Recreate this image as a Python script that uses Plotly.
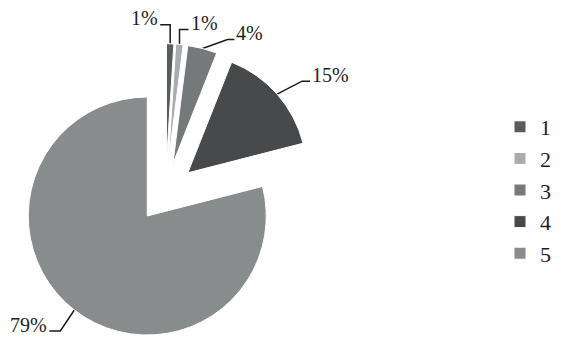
import math
import plotly.graph_objects as go

# ---- data ----
categories = ["1", "2", "3", "4", "5"]
values = [1, 1, 4, 15, 79]          # percent
colors = ["#585c5d", "#a9acac", "#76797a", "#47494a", "#898c8c"]

# ---- layout constants (figure pixels; the page body adds an 8px offset) ----
W, H = 561, 337
PULL = 0.25
DOM_X = [0.0, 0.5615]
DOM_Y = [0.0111, 0.8939]
FONT = "Liberation Serif, Times New Roman, serif"
TEXT_COLOR = "#1e1e1e"
# leader style per slice: elbow offset (dx, dy) from the slice's outer mid point, then stub length
LEADERS = [(0, -19, -10), (0, -15, 9), (25, -9, 7), (25, -13, 8), (-14, 21, -11)]

# pie geometry as plotly computes it (margins are zero)
dom_w = W * (DOM_X[1] - DOM_X[0])
dom_h = H * (DOM_Y[1] - DOM_Y[0])
r = min(dom_w, dom_h) / 2 / (1 + PULL)
cx = W * (DOM_X[0] + DOM_X[1]) / 2
cy = H * (1 - (DOM_Y[0] + DOM_Y[1]) / 2)

fig = go.Figure()

fig.add_trace(go.Pie(
    labels=categories,
    values=values,
    sort=False,
    direction="clockwise",
    rotation=0,
    pull=[PULL] * len(values),
    marker=dict(colors=colors, line=dict(color="white", width=1)),
    textinfo="none",
    hoverinfo="label+percent",
    domain=dict(x=DOM_X, y=DOM_Y),
))

# leader lines and labels
total = float(sum(values))
cum = 0.0
lx, ly = [], []
annotations = []
for v, (dx, dy, stub) in zip(values, LEADERS):
    theta = 2 * math.pi * (cum + v / 2) / total
    cum += v
    ux, uy = math.sin(theta), -math.cos(theta)
    ex = cx + (PULL * r + r) * ux
    ey = cy + (PULL * r + r) * uy
    bx, by = ex + dx, ey + dy
    sx = bx + stub
    lx += [ex, bx, sx, None]
    ly += [ey, by, by, None]
    annotations.append(dict(
        x=sx, y=by - 6.5, xref="x", yref="y",
        text=f"{v}%", showarrow=False,
        xanchor="left" if stub > 0 else "right", yanchor="middle",
        font=dict(family=FONT, size=20, color=TEXT_COLOR),
    ))

fig.add_trace(go.Scatter(
    x=lx, y=ly, mode="lines",
    line=dict(color="#1a1a1a", width=1.5),
    showlegend=False, hoverinfo="skip",
))

fig.update_layout(
    width=W, height=H,
    margin=dict(l=0, r=0, t=0, b=0, autoexpand=False),
    paper_bgcolor="white",
    plot_bgcolor="rgba(0,0,0,0)",
    xaxis=dict(range=[0, W], visible=False, fixedrange=True),
    yaxis=dict(range=[H, 0], visible=False, fixedrange=True),
    showlegend=True,
    legend=dict(
        x=492 / W, y=1 - 98 / H, xanchor="left", yanchor="top",
        font=dict(family=FONT, size=22, color=TEXT_COLOR),
        bgcolor="rgba(0,0,0,0)",
    ),
    annotations=annotations,
    font=dict(family=FONT, color=TEXT_COLOR),
)

fig.write_html("out.html")
